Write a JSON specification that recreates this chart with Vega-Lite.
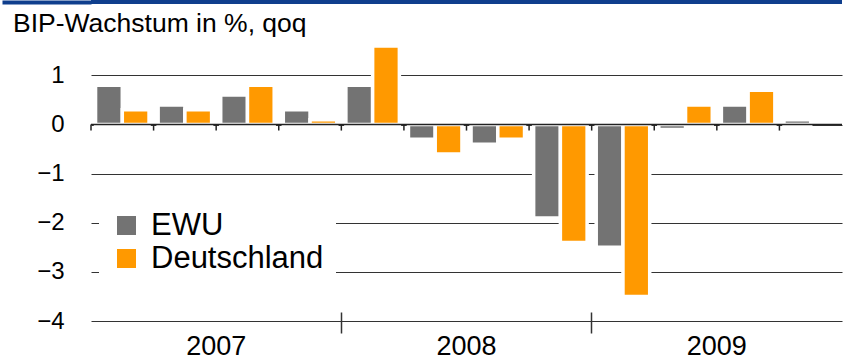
{
  "$schema": "https://vega.github.io/schema/vega-lite/v6.json",
  "padding": {"left": 0, "top": 0, "right": 0, "bottom": 0},
  "spacing": 6,
  "config": {
    "view": {"stroke": null},
    "font": "Liberation Sans"
  },
  "datasets": {
    "gdp": [
      {"quarter": "2007Q1", "region": "EWU", "growth": 0.8},
      {"quarter": "2007Q1", "region": "Deutschland", "growth": 0.3},
      {"quarter": "2007Q2", "region": "EWU", "growth": 0.4},
      {"quarter": "2007Q2", "region": "Deutschland", "growth": 0.3},
      {"quarter": "2007Q3", "region": "EWU", "growth": 0.6},
      {"quarter": "2007Q3", "region": "Deutschland", "growth": 0.8},
      {"quarter": "2007Q4", "region": "EWU", "growth": 0.3},
      {"quarter": "2007Q4", "region": "Deutschland", "growth": 0.1},
      {"quarter": "2008Q1", "region": "EWU", "growth": 0.8},
      {"quarter": "2008Q1", "region": "Deutschland", "growth": 1.6},
      {"quarter": "2008Q2", "region": "EWU", "growth": -0.3},
      {"quarter": "2008Q2", "region": "Deutschland", "growth": -0.6},
      {"quarter": "2008Q3", "region": "EWU", "growth": -0.4},
      {"quarter": "2008Q3", "region": "Deutschland", "growth": -0.3},
      {"quarter": "2008Q4", "region": "EWU", "growth": -1.9},
      {"quarter": "2008Q4", "region": "Deutschland", "growth": -2.4},
      {"quarter": "2009Q1", "region": "EWU", "growth": -2.5},
      {"quarter": "2009Q1", "region": "Deutschland", "growth": -3.5},
      {"quarter": "2009Q2", "region": "EWU", "growth": -0.1},
      {"quarter": "2009Q2", "region": "Deutschland", "growth": 0.4},
      {"quarter": "2009Q3", "region": "EWU", "growth": 0.4},
      {"quarter": "2009Q3", "region": "Deutschland", "growth": 0.7},
      {"quarter": "2009Q4", "region": "EWU", "growth": 0.1}
    ],
    "years": [
      {"quarter": "2007Q3", "year": "2007"},
      {"quarter": "2008Q3", "year": "2008"},
      {"quarter": "2009Q3", "year": "2009"}
    ]
  },
  "vconcat": [
    {
      "width": 751,
      "height": 4,
      "data": {"values": []},
      "mark": "rect",
      "encoding": {
        "y": {
          "datum": "strip",
          "type": "nominal",
          "scale": {"paddingInner": 0, "paddingOuter": 0},
          "axis": {
            "title": null,
            "labels": false,
            "domain": false,
            "grid": false,
            "ticks": true,
            "tickSize": 89,
            "tickWidth": 4,
            "tickColor": "#0F3E8D",
            "tickCap": "butt"
          }
        }
      },
      "view": {"fill": "#0F3E8D", "stroke": null}
    },
    {
      "width": 751,
      "height": 275,
      "title": {
        "text": "BIP-Wachstum in %, qoq",
        "anchor": "start",
        "frame": "group",
        "dx": -78,
        "offset": -14,
        "baseline": "alphabetic",
        "font": "Liberation Sans",
        "fontSize": 26.5,
        "fontWeight": "normal",
        "color": "#000000"
      },
      "layer": [
        {
          "data": {"name": "gdp"},
          "mark": {"type": "bar", "stroke": "#ffffff", "strokeWidth": 3.5},
          "encoding": {
            "x": {
              "field": "quarter",
              "type": "nominal",
              "title": null,
              "scale": {"paddingInner": 0, "paddingOuter": 0},
              "axis": {
                "values": ["2008Q1", "2009Q1"],
                "bandPosition": 0,
                "domain": false,
                "labels": false,
                "grid": false,
                "ticks": true,
                "tickSize": 21,
                "tickWidth": 1.5,
                "tickColor": "#333333",
                "offset": -9,
                "title": null
              }
            },
            "xOffset": {
              "field": "region",
              "type": "nominal",
              "sort": ["EWU", "Deutschland"],
              "scale": {"paddingInner": 0, "paddingOuter": 0.17}
            },
            "y": {
              "field": "growth",
              "type": "quantitative",
              "scale": {"domain": [-4, 1.6], "nice": false},
              "axis": {
                "values": [-4, -3, -2, -1, 0, 1],
                "title": null,
                "domain": false,
                "ticks": false,
                "labelPadding": 27,
                "labelFont": "Liberation Sans",
                "labelFontSize": 24,
                "labelColor": "#000000",
                "grid": true,
                "gridColor": "#333333",
                "gridWidth": 1
              }
            },
            "color": {
              "field": "region",
              "type": "nominal",
              "scale": {"domain": ["EWU", "Deutschland"], "range": ["#737373", "#FF9900"]},
              "legend": {
                "title": null,
                "orient": "none",
                "legendX": 8,
                "legendY": 198,
                "direction": "vertical",
                "fillColor": "#ffffff",
                "padding": 12,
                "symbolType": "square",
                "symbolSize": 361,
                "symbolStrokeWidth": 0,
                "symbolOpacity": 1,
                "labelFont": "Liberation Sans",
                "labelFontSize": 31,
                "labelColor": "#000000",
                "labelOffset": 9,
                "labelLimit": 400,
                "rowPadding": 1
              }
            }
          }
        },
        {
          "data": {"values": [{}]},
          "mark": {"type": "rule", "color": "#222222", "strokeWidth": 1.5},
          "encoding": {"y": {"datum": 0}}
        },
        {
          "data": {"name": "gdp"},
          "transform": [{"filter": "datum.region === 'EWU'"}],
          "mark": {"type": "rule", "color": "#222222", "strokeWidth": 1.5, "y2Offset": 6},
          "encoding": {
            "x": {"field": "quarter", "type": "nominal", "bandPosition": 0},
            "y": {"datum": 0},
            "y2": {"datum": 0}
          }
        },
        {
          "data": {"name": "years"},
          "mark": {
            "type": "text",
            "baseline": "alphabetic",
            "align": "center",
            "dy": 34,
            "font": "Liberation Sans",
            "fontSize": 27,
            "color": "#000000"
          },
          "encoding": {
            "x": {"field": "quarter", "type": "nominal", "bandPosition": 0},
            "y": {"datum": -4},
            "text": {"field": "year"}
          }
        }
      ]
    }
  ]
}
